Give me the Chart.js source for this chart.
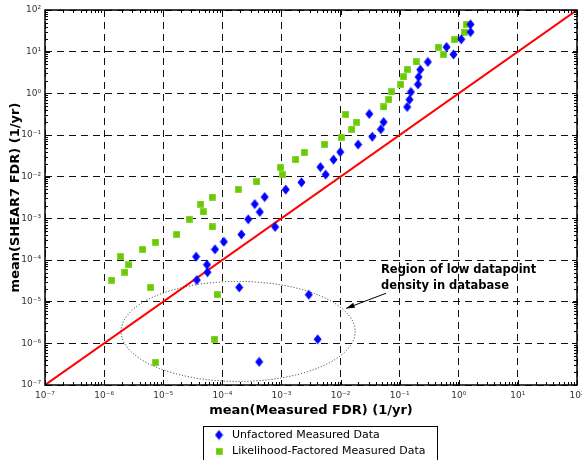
<!DOCTYPE html>
<html><head><meta charset="utf-8">
<script src="https://cdn.jsdelivr.net/npm/chart.js@4.4.0/dist/chart.umd.min.js"></script>
<style>html,body{margin:0;padding:0;background:#fff}#wrap{width:582px;height:460px}</style>
</head><body><div id="wrap"><canvas id="c" width="582" height="460"></canvas></div>
<script>
// ---- data ----
const tickExponents = [-7,-6,-5,-4,-3,-2,-1,0,1,2];
const unfactoredX = [3.6e-5,5.5e-5,5.6e-5,3.7e-5,7.5e-5,1.06e-4,2.1e-4,2.74e-4,3.54e-4,4.3e-4,5.2e-4,7.8e-4,1.18e-3,2.18e-3,4.56e-3,5.6e-3,7.6e-3,9.9e-3,1.98e-2,3.06e-2,3.44e-2,4.8e-2,5.35e-2,0.134,0.147,0.155,0.204,0.209,0.223,0.3,0.62,0.815,1.1,1.58,1.58,1.93e-4,2.9e-3,4.1e-3,4.2e-4];
const unfactoredY = [1.2e-4,7.7e-5,5.1e-5,3.3e-5,1.8e-4,2.75e-4,4.1e-4,9.5e-4,2.2e-3,1.42e-3,3.25e-3,6.2e-4,4.9e-3,7.3e-3,1.7e-2,1.12e-2,2.56e-2,3.9e-2,5.9e-2,0.32,0.091,0.137,0.205,0.47,0.705,1.08,1.64,2.47,3.7,5.65,12.9,8.6,19.8,29.6,45.3,2.2e-5,1.47e-5,1.25e-6,3.6e-7];
const factoredX = [1.35e-6,1.9e-6,2.6e-6,2.25e-6,4.5e-6,7.4e-6,6.1e-6,7.4e-6,1.7e-5,2.75e-5,4.3e-5,4.75e-5,6.7e-5,6.7e-5,8.2e-5,7.4e-5,1.86e-4,3.83e-4,9.6e-4,1.05e-3,1.75e-3,2.45e-3,5.4e-3,1.03e-2,1.56e-2,1.87e-2,1.22e-2,5.4e-2,6.6e-2,7.3e-2,0.104,0.116,0.134,0.19,0.449,0.552,0.847,1.25,1.33];
const factoredY = [3.3e-5,1.2e-4,7.6e-5,5.1e-5,1.8e-4,2.7e-4,2.2e-5,3.5e-7,4.1e-4,9.5e-4,2.2e-3,1.42e-3,3.25e-3,6.2e-4,1.47e-5,1.25e-6,4.98e-3,7.45e-3,1.68e-2,1.12e-2,2.56e-2,3.84e-2,5.9e-2,8.8e-2,0.137,0.205,0.313,0.47,0.72,1.08,1.64,2.47,3.77,5.65,12.9,8.6,19.4,29.6,45.3];
const identityLine = [1e-7, 1e2];
const seriesLabels = ['Unfactored Measured Data','Likelihood-Factored Measured Data'];
const xTitle = 'mean(Measured FDR) (1/yr)';
const yTitle = 'mean(SHEAR7 FDR) (1/yr)';
const noteLines = ['Region of low datapoint','density in database'];
// annotation anchors in data coordinates
const ellipseCenter = {x:1.85e-4, y:1.93e-6};
const ellipseHalfDecades = {x:1.98, y:1.2};
const noteAnchor = {x:0.0483, y:4.9e-5};
const arrowFrom = {x:0.0588, y:1.59e-5};
const arrowTo = {x:0.0124, y:6.9e-6};

// ---- helpers ----
const SUP = {'-':'\u207B','0':'\u2070','1':'\u00B9','2':'\u00B2','3':'\u00B3','4':'\u2074','5':'\u2075','6':'\u2076','7':'\u2077','8':'\u2078','9':'\u2079'};
const decadeValues = tickExponents.map(e => Math.pow(10, e));
function supLabel(v){ const e = Math.round(Math.log10(v)); return '10' + String(e).split('').map(c=>SUP[c]).join(''); }
const BLUE = '#0000ff', GREEN = '#66cc00', RED = '#ff0000';
const FONT = '"DejaVu Sans", Verdana, sans-serif';
function diamondImg(){ const c=document.createElement('canvas'); c.width=9; c.height=11; const g=c.getContext('2d');
  g.fillStyle=BLUE; g.beginPath(); g.moveTo(4.5,0.5); g.lineTo(8.5,5.5); g.lineTo(4.5,10.5); g.lineTo(0.5,5.5); g.closePath(); g.fill(); return c; }
function squareImg(){ const c=document.createElement('canvas'); c.width=7; c.height=7; const g=c.getContext('2d');
  g.fillStyle='#a6e066'; g.fillRect(0,0,7,7); g.fillStyle=GREEN; g.fillRect(0.5,0.5,6,6); return c; }
const dia = diamondImg(), sq = squareImg();
const toPts = (xs, ys) => xs.map((x,i)=>({x, y:ys[i]}));

const overlay = {
  id:'overlay',
  afterDatasetsDraw(chart){
    const {ctx, chartArea:a, scales:{x, y}} = chart;
    ctx.save();
    ctx.strokeStyle='#000'; ctx.lineWidth=1;
    ctx.beginPath();
    for (const e of tickExponents){
      for (let k=1;k<=9;k++){
        if (e===tickExponents[tickExponents.length-1] && k>1) break;
        const v = k*Math.pow(10,e), len = k===1?5:3;
        const px = Math.round(x.getPixelForValue(v))+0.5;
        ctx.moveTo(px,a.bottom); ctx.lineTo(px,a.bottom-len);
        ctx.moveTo(px,a.top); ctx.lineTo(px,a.top+len);
        const py = Math.round(y.getPixelForValue(v))+0.5;
        ctx.moveTo(a.left,py); ctx.lineTo(a.left+len,py);
        ctx.moveTo(a.right,py); ctx.lineTo(a.right-len,py);
      }
    }
    ctx.stroke();
    ctx.lineWidth=1.5; ctx.strokeRect(a.left, a.top, a.right-a.left, a.bottom-a.top);
    // ellipse
    const cx = x.getPixelForValue(ellipseCenter.x), cy = y.getPixelForValue(ellipseCenter.y);
    const rx = x.getPixelForValue(ellipseCenter.x*Math.pow(10,ellipseHalfDecades.x)) - cx;
    const ry = cy - y.getPixelForValue(ellipseCenter.y*Math.pow(10,ellipseHalfDecades.y));
    ctx.setLineDash([1,2]); ctx.lineWidth=1; ctx.strokeStyle='#222';
    ctx.beginPath(); ctx.ellipse(cx,cy,rx,ry,0,0,Math.PI*2); ctx.stroke();
    ctx.setLineDash([]);
    // note text
    ctx.fillStyle='#000'; ctx.font='bold 11.5px ' + FONT;
    ctx.textAlign='left'; ctx.textBaseline='alphabetic';
    const nx = x.getPixelForValue(noteAnchor.x), ny = y.getPixelForValue(noteAnchor.y);
    noteLines.forEach((t,i)=>ctx.fillText(t, nx, ny + i*16));
    // arrow
    const x0 = x.getPixelForValue(arrowFrom.x), y0 = y.getPixelForValue(arrowFrom.y);
    const x1 = x.getPixelForValue(arrowTo.x), y1 = y.getPixelForValue(arrowTo.y);
    ctx.strokeStyle='#000'; ctx.lineWidth=1;
    ctx.beginPath(); ctx.moveTo(x0,y0); ctx.lineTo(x1,y1); ctx.stroke();
    const ang = Math.atan2(y1-y0, x1-x0), L=9, w=0.3;
    ctx.beginPath(); ctx.moveTo(x1,y1);
    ctx.lineTo(x1 - L*Math.cos(ang-w), y1 - L*Math.sin(ang-w));
    ctx.lineTo(x1 - L*Math.cos(ang+w), y1 - L*Math.sin(ang+w));
    ctx.closePath(); ctx.fill();
    ctx.restore();
  },
  afterDraw(chart){
    const ctx = chart.ctx;
    ctx.save();
    ctx.strokeStyle='#000'; ctx.lineWidth=1;
    ctx.strokeRect(203.5, 426.5, 234, 40);
    ctx.drawImage(dia, 219-4.5, 435-5.5);
    ctx.drawImage(sq, 219-3.5, 451.5-3.5);
    ctx.fillStyle='#000'; ctx.font='11px ' + FONT;
    ctx.textBaseline='middle'; ctx.textAlign='left';
    ctx.fillText(chart.data.datasets[0].label, 232, 435);
    ctx.fillText(chart.data.datasets[1].label, 232, 451.5);
    ctx.restore();
  }
};

const axisCommon = {
  type:'logarithmic', min:1e-7, max:1e2,
  afterBuildTicks: s => { s.ticks = decadeValues.map(v=>({value:v, major:true})); },
  grid:{ color:'#111', lineWidth:1, drawTicks:false },
  border:{ display:false, dash:[7,5] },
};

new Chart(document.getElementById('c'), {
  data:{ datasets:[
    { type:'scatter', label:seriesLabels[0], data:toPts(unfactoredX, unfactoredY), pointStyle:dia, order:0 },
    { type:'scatter', label:seriesLabels[1], data:toPts(factoredX, factoredY), pointStyle:sq, order:1 },
    { type:'line', label:'y = x', data:toPts(identityLine, identityLine), borderColor:RED, borderWidth:2, pointRadius:0, order:2 }
  ]},
  options:{
    responsive:false, animation:false, devicePixelRatio:1,
    layout:{ padding:{ left:0, top:10, right:4, bottom:0 } },
    plugins:{ legend:{display:false}, tooltip:{enabled:false} },
    scales:{
      x:{ ...axisCommon, position:'bottom',
        ticks:{ callback:v=>supLabel(v), autoSkip:false, maxRotation:0, padding:5, color:'#333', font:{family:'DejaVu Sans', size:9} },
        title:{ display:true, text:xTitle, color:'#000', font:{family:'DejaVu Sans', size:13, weight:'bold'}, padding:{top:0, bottom:42} },
        afterFit: s => { s.height = 75; s.paddingLeft = 0; s.paddingRight = 0; }
      },
      y:{ ...axisCommon, position:'left',
        ticks:{ callback:v=>supLabel(v), autoSkip:false, padding:4, color:'#333', font:{family:'DejaVu Sans', size:9} },
        title:{ display:true, text:yTitle, color:'#000', font:{family:'DejaVu Sans', size:13, weight:'bold'}, padding:{top:8, bottom:0} },
        afterFit: s => { s.width = 45; s.paddingTop = 0; s.paddingBottom = 0; }
      }
    }
  },
  plugins:[overlay]
});
</script></body></html>
